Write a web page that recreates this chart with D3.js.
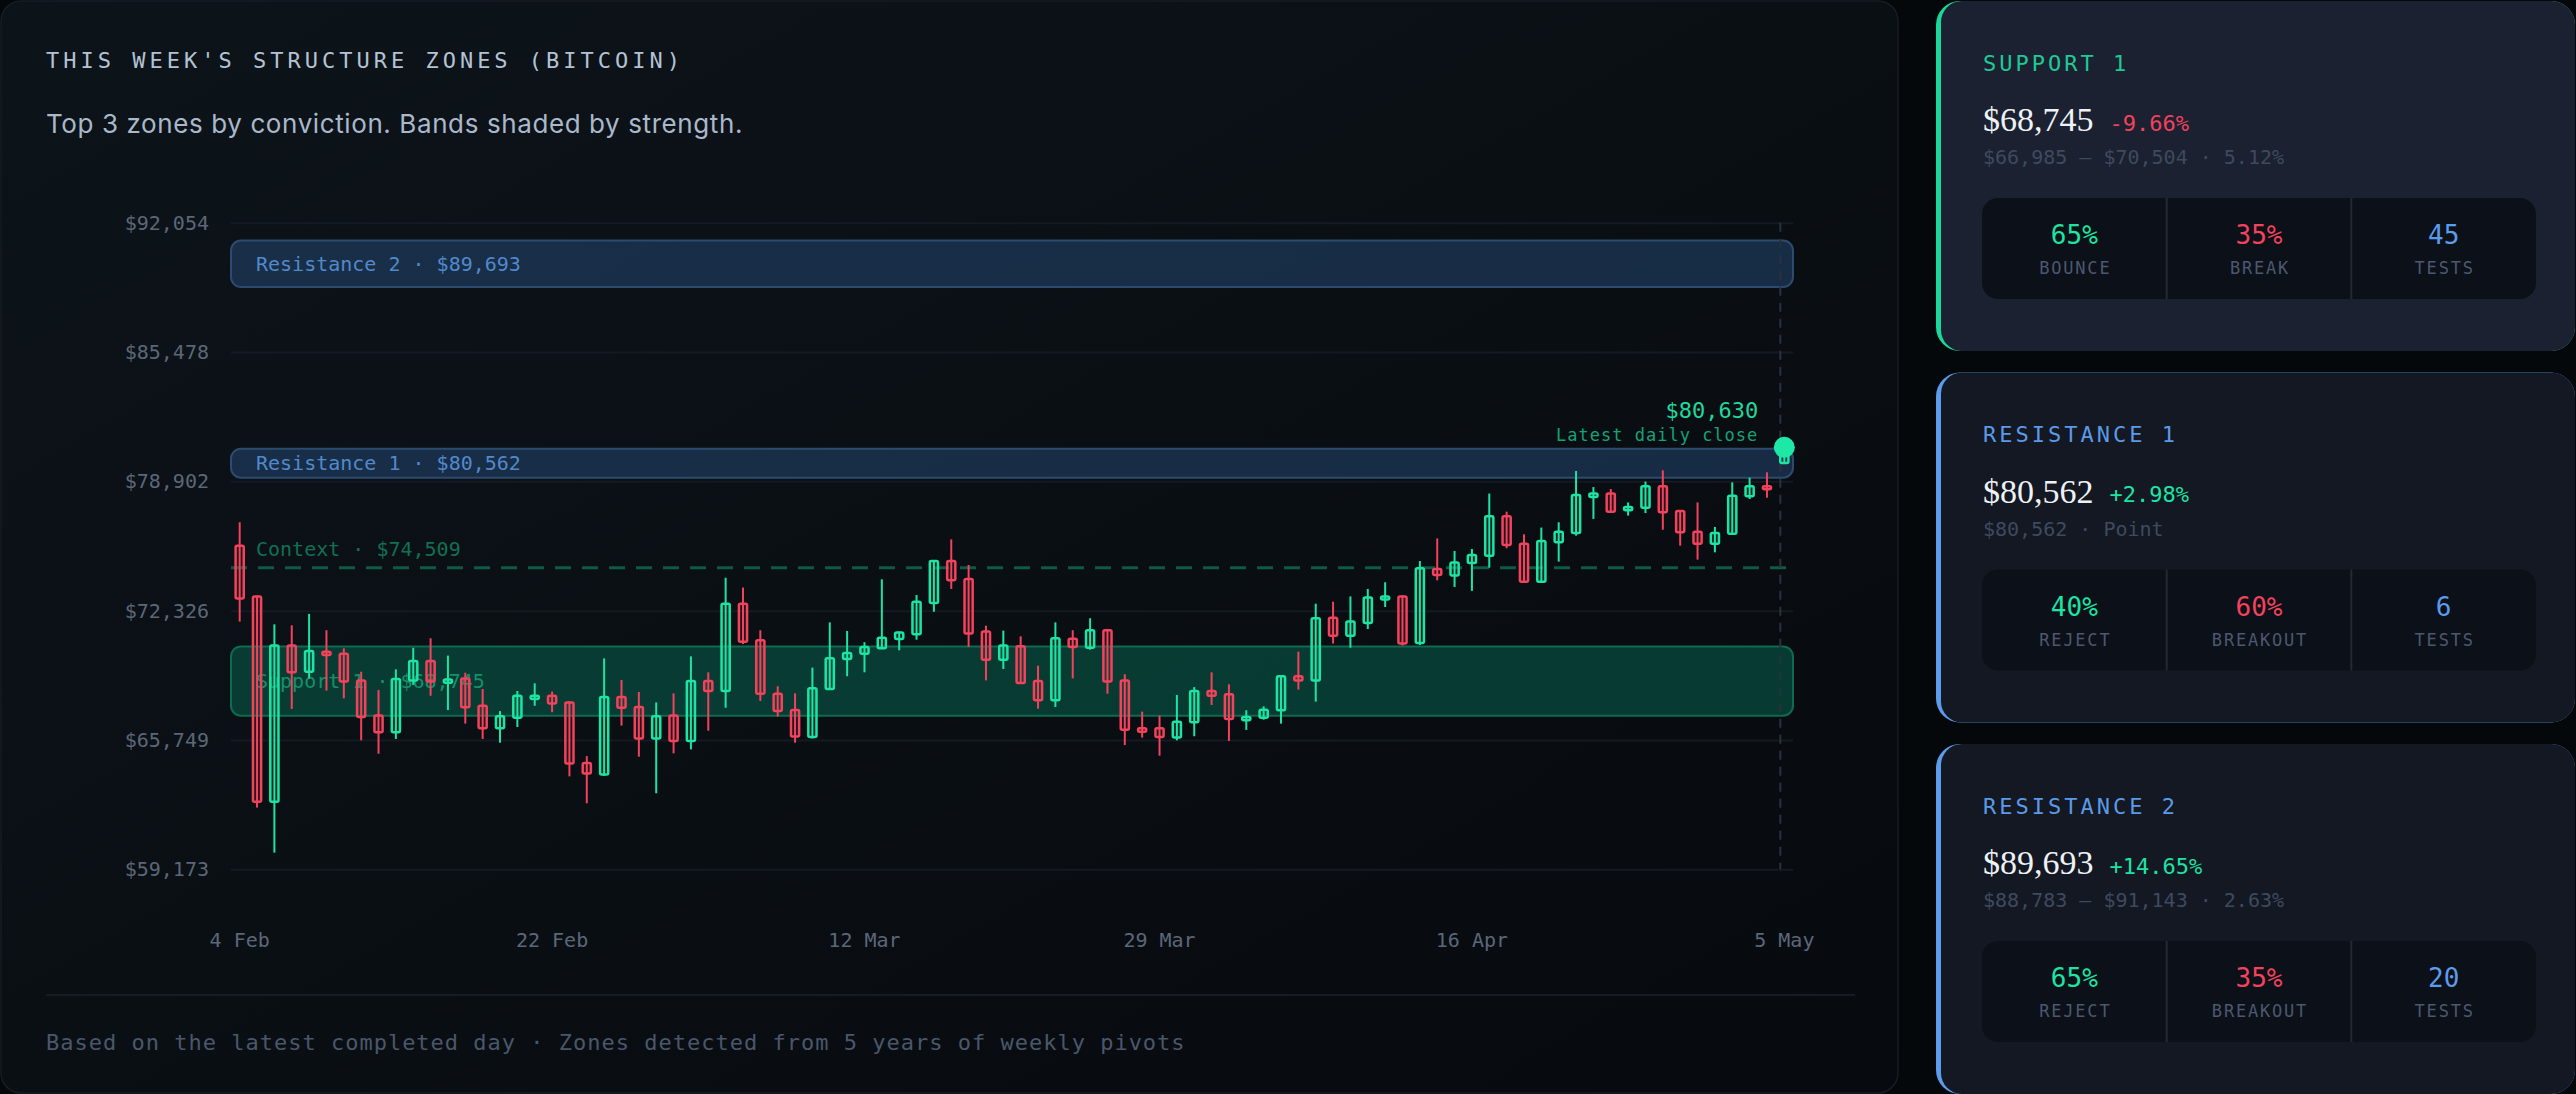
<!DOCTYPE html>
<html>
<head>
<meta charset="utf-8">
<script src="https://cdn.jsdelivr.net/npm/d3@7"></script>
<style>
html, body { margin: 0; padding: 0; background: #05080b; overflow: hidden; }
svg { display: block; }
</style>
</head>
<body>
<div id="main"></div>
<script>
const ctx = {
    w: 2576,
    h: 1094,
    left: 231, right: 1793, top: 222.7, bottom: 869.3,
    mono: "'DejaVu Sans Mono', monospace",
    green: "#1de4a2",
    red: "#f2425c",
    blue: "#5b9cec",
};

// daily candles, index 0 = 4 Feb
const opens = [75630, 73040, 62610, 70550, 69220, 70240, 70140, 68780, 66990, 66140,
    68780, 69770, 68660, 68880, 67490, 66340, 66880, 67830, 68000, 67660,
    64580, 64000, 67940, 67430, 65830, 66990, 65700, 68750, 68240, 72680,
    70820, 68100, 67270, 65900, 68340, 69870, 70140, 70410, 70880, 71120,
    72720, 74850, 73940, 71260, 69830, 70510, 68750, 67770, 70900, 70440,
    71330, 68780, 66340, 66340, 65870, 66650, 68240, 68070, 66750, 66880,
    67260, 68990, 68780, 71970, 71050, 71700, 72890, 73050, 70680, 74440,
    74110, 74750, 75120, 77120, 75730, 73800, 75800, 76280, 78110, 78280,
    77430, 77560, 78650, 77390, 76340, 75730, 76240, 78140, 78650, 79830];
const highs = [76820, 73090, 71630, 71580, 72160, 71330, 70410, 69220, 68290, 69340,
    70440, 70920, 70040, 69170, 68340, 67220, 68240, 68630, 68210, 67730,
    64930, 69900, 68800, 68190, 67660, 68120, 70000, 69190, 74000, 73500,
    71330, 68480, 68120, 69430, 71730, 71290, 70720, 73920, 71260, 73120,
    74900, 75950, 74650, 71560, 71310, 71020, 69530, 71730, 71330, 71940,
    71400, 69090, 67190, 66990, 68040, 68440, 69190, 68580, 67260, 67460,
    69020, 70240, 72680, 72780, 73050, 73430, 73770, 73120, 74850, 76000,
    75360, 75460, 78280, 77360, 76210, 76550, 76820, 79430, 78610, 78510,
    77830, 78890, 79460, 77430, 77830, 76580, 78850, 79090, 79360, 80700];
const lows = [71770, 62310, 60020, 67330, 68880, 68260, 67870, 65730, 65050, 65800,
    68550, 68000, 67270, 66580, 65800, 65610, 66410, 67490, 67160, 63900,
    62530, 63920, 66480, 64900, 63040, 65070, 65270, 66220, 67390, 70630,
    67730, 66940, 65610, 65830, 68310, 68990, 69190, 70380, 70310, 70850,
    72270, 73430, 70480, 68780, 69360, 68610, 67340, 67430, 68880, 70340,
    68100, 65490, 65870, 64950, 65730, 65940, 67530, 65700, 66260, 66780,
    66580, 68310, 67700, 70650, 70440, 71390, 72510, 70550, 70580, 73870,
    73530, 73330, 74510, 75500, 73770, 73770, 74820, 76140, 76990, 77290,
    77160, 77290, 76440, 75630, 74920, 75290, 76210, 78000, 78070, 79780];
const closes = [72950, 62610, 70550, 69190, 70270, 70070, 68720, 66920, 66140, 68850,
    69770, 68720, 68830, 67410, 66340, 66950, 68000, 68000, 67600, 64550,
    64040, 67940, 67390, 65830, 66950, 65700, 68750, 68240, 72680, 70750,
    68100, 67220, 65920, 68380, 69900, 70170, 70480, 70950, 71220, 72780,
    74850, 73870, 71160, 69830, 70550, 68650, 67770, 70920, 70480, 71330,
    68720, 66270, 66170, 65900, 66680, 68240, 68000, 66820, 66920, 67290,
    68990, 68780, 71940, 71050, 71770, 72990, 73050, 70650, 74480, 74140,
    74780, 75160, 77120, 75660, 73800, 75870, 76340, 78210, 78280, 77360,
    77600, 78650, 77330, 76310, 75730, 76280, 78170, 78650, 78510, 80630];

// axes
const yTicks = [59173, 65749, 72326, 78902, 85478, 92054];
const xTickIdx = [0, 18, 36, 53, 71, 89];
const xTickLabels = ["4 Feb", "22 Feb", "12 Mar", "29 Mar", "16 Apr", "5 May"];

// zone bands on the chart
const bandNames = ["Resistance 2", "Resistance 1", "Support 1"];
const bandLevels = [89693, 80562, 68745];
const bandLo = [88783, 79090, 66985];
const bandHi = [91143, 80562, 70504];
const bandKinds = ["res", "res", "sup"];
const contextLevel = 74509;

// side cards
const cardTitles = ["SUPPORT 1", "RESISTANCE 1", "RESISTANCE 2"];
const cardKinds = ["sup", "res", "res"];
const cardPrices = [68745, 80562, 89693];
const cardChanges = [-9.66, 2.98, 14.65];
const cardRanges = ["$66,985 \u2014 $70,504 \u00b7 5.12%", "$80,562 \u00b7 Point", "$88,783 \u2014 $91,143 \u00b7 2.63%"];
const cardStatValues = [["65%", "35%", "45"], ["40%", "60%", "6"], ["65%", "35%", "20"]];
const cardStatLabels = [["BOUNCE", "BREAK", "TESTS"], ["REJECT", "BREAKOUT", "TESTS"], ["REJECT", "BREAKOUT", "TESTS"]];

const fmt = d => "$" + d3.format(",")(d);

function createViz() {
    const svg = d3.select("#main").append("svg")
        .attr("width", ctx.w).attr("height", ctx.h);
    const defs = svg.append("defs");
    const grad = defs.append("linearGradient").attr("id", "panelGrad")
        .attr("x1", 0).attr("y1", 0).attr("x2", 1).attr("y2", 1);
    grad.append("stop").attr("offset", "0%").attr("stop-color", "#0d1419");
    grad.append("stop").attr("offset", "100%").attr("stop-color", "#070a0f");

    // main panel
    svg.append("rect")
        .attr("x", 1).attr("y", 1).attr("width", 1897).attr("height", 1092)
        .attr("rx", 20)
        .attr("fill", "url(#panelGrad)")
        .attr("stroke", "#171d25").attr("stroke-width", 1.5);

    svg.append("text")
        .attr("x", 46).attr("y", 60).attr("dy", "0.36em")
        .style("font", `22px ${ctx.mono}`)
        .style("letter-spacing", "4px")
        .attr("fill", "#b4c2d5")
        .text("THIS WEEK'S STRUCTURE ZONES (BITCOIN)");

    svg.append("text")
        .attr("x", 46).attr("y", 133)
        .style("font", "26px Inter, 'Noto Sans', sans-serif")
        .style("letter-spacing", "0.6px")
        .attr("fill", "#a9b8cb")
        .text("Top 3 zones by conviction. Bands shaded by strength.");

    drawChart(svg);
    drawCards(svg, defs);

    // footer
    svg.append("line")
        .attr("x1", 46).attr("x2", 1855).attr("y1", 995).attr("y2", 995)
        .attr("stroke", "#161c25").attr("stroke-width", 2);
    svg.append("text")
        .attr("x", 46).attr("y", 1042).attr("dy", "0.36em")
        .style("font", `22px ${ctx.mono}`)
        .style("letter-spacing", "1px")
        .attr("fill", "#4a576b")
        .text("Based on the latest completed day \u00b7 Zones detected from 5 years of weekly pivots");
}

function drawChart(svg) {
    const n = closes.length;
    const x = d3.scaleBand().domain(d3.range(n)).range([ctx.left, ctx.right]);
    const y = d3.scaleLinear().domain([59173, 92054]).range([ctx.bottom, ctx.top]);
    const cx = i => x(i) + x.bandwidth() / 2;

    // y axis + grid
    const gy = svg.append("g")
        .attr("transform", `translate(${ctx.left},0)`)
        .call(d3.axisLeft(y).tickValues(yTicks).tickSize(-(ctx.right - ctx.left))
            .tickPadding(22).tickFormat(fmt));
    gy.select(".domain").remove();
    gy.selectAll("line").attr("stroke", "#141a23").attr("stroke-width", 2);
    gy.selectAll("text")
        .attr("fill", "#5b6779")
        .style("font", `20px ${ctx.mono}`);

    // x axis labels
    const gx = svg.append("g")
        .attr("transform", `translate(0,940)`)
        .call(d3.axisBottom(x).tickValues(xTickIdx).tickSize(0)
            .tickFormat((d, k) => xTickLabels[k]));
    gx.select(".domain").remove();
    gx.selectAll("text")
        .attr("y", 0).attr("dy", "0.36em")
        .attr("fill", "#5b6779")
        .style("font", `20px ${ctx.mono}`);

    // zone bands
    const bandStyle = {
        res: { fill: "rgba(38,74,120,0.5)", stroke: "#2c4b6f", text: "#5189cc" },
        sup: { fill: "rgba(6,104,82,0.5)", stroke: "#0f6a50", text: "#178f6b" },
    };
    const bands = bandNames.map((name, k) => ({
        name, level: bandLevels[k], lo: bandLo[k], hi: bandHi[k], kind: bandKinds[k]
    }));
    svg.append("g").selectAll("rect")
        .data(bands).join("rect")
        .attr("x", ctx.left).attr("width", ctx.right - ctx.left)
        .attr("y", d => y(d.hi))
        .attr("height", d => y(d.lo) - y(d.hi))
        .attr("rx", 10)
        .attr("fill", d => bandStyle[d.kind].fill)
        .attr("stroke", d => bandStyle[d.kind].stroke)
        .attr("stroke-width", 2);

    svg.append("g").selectAll("text")
        .data(bands).join("text")
        .attr("x", ctx.left + 25)
        .attr("y", d => (y(d.lo) + y(d.hi)) / 2)
        .attr("dy", "0.36em")
        .style("font", `20px ${ctx.mono}`)
        .attr("fill", d => bandStyle[d.kind].text)
        .text(d => `${d.name} \u00b7 ${fmt(d.level)}`);

    // context level
    svg.append("line")
        .attr("x1", ctx.left).attr("x2", ctx.right)
        .attr("y1", y(contextLevel)).attr("y2", y(contextLevel))
        .attr("stroke", "#0e5a45").attr("stroke-width", 3)
        .attr("stroke-dasharray", "16 11");
    svg.append("text")
        .attr("x", ctx.left + 25).attr("y", y(contextLevel) - 19).attr("dy", "0.36em")
        .style("font", `20px ${ctx.mono}`)
        .attr("fill", "#107054")
        .text(`Context \u00b7 ${fmt(contextLevel)}`);

    // latest day marker line
    const last = n - 1;
    svg.append("line")
        .attr("x1", cx(last) - 4).attr("x2", cx(last) - 4)
        .attr("y1", ctx.top).attr("y2", ctx.bottom)
        .attr("stroke", "#2a313b").attr("stroke-width", 2)
        .attr("stroke-dasharray", "9 7");

    // candles
    const candles = d3.range(n).map(i => ({
        i, o: opens[i], h: highs[i], l: lows[i], c: closes[i]
    }));
    const bodyW = x.bandwidth() * 0.47;
    const g = svg.append("g").selectAll("g")
        .data(candles).join("g")
        .attr("stroke", d => d.c >= d.o ? ctx.green : ctx.red);
    g.append("rect")
        .attr("x", d => cx(d.i) - bodyW / 2)
        .attr("width", bodyW)
        .attr("y", d => y(Math.max(d.o, d.c)))
        .attr("height", d => Math.max(3, Math.abs(y(d.o) - y(d.c))))
        .attr("rx", 1.5)
        .attr("fill", d => d.c >= d.o ? ctx.green : ctx.red)
        .attr("fill-opacity", 0.1)
        .attr("stroke-width", 2.5);
    g.append("line")
        .attr("x1", d => cx(d.i)).attr("x2", d => cx(d.i))
        .attr("y1", d => y(d.h)).attr("y2", d => y(d.l))
        .attr("stroke-width", 2);

    // latest close
    const lastClose = closes[last];
    svg.append("circle")
        .attr("cx", cx(last)).attr("cy", y(lastClose)).attr("r", 10.5)
        .attr("fill", "#1ee8a6");
    svg.append("text")
        .attr("x", cx(last) - 26).attr("y", y(lastClose) - 37).attr("dy", "0.36em")
        .attr("text-anchor", "end")
        .style("font", `22px ${ctx.mono}`)
        .attr("fill", "#20d89b")
        .text(fmt(lastClose));
    svg.append("text")
        .attr("x", cx(last) - 26).attr("y", y(lastClose) - 12).attr("dy", "0.36em")
        .attr("text-anchor", "end")
        .style("font", `17px ${ctx.mono}`)
        .style("letter-spacing", "1px")
        .attr("fill", "#15a276")
        .text("Latest daily close");
}

function drawCards(svg, defs) {
    const cardX = 1936, cardW = 639, cardH = 350, gap = 21.5;
    const accent = { sup: "#1ad89b", res: "#5b9cec" };
    const cardBg = ["#1b2130", "#131823", "#131823"];

    cardTitles.forEach((title, k) => {
        const top = 1 + k * (cardH + gap);
        const kind = cardKinds[k];
        const clipId = "cardClip" + k;
        defs.append("clipPath").attr("id", clipId)
            .append("rect")
            .attr("x", cardX).attr("y", top).attr("width", cardW).attr("height", cardH).attr("rx", 24);
        const g = svg.append("g");
        g.append("rect")
            .attr("x", cardX).attr("y", top).attr("width", cardW).attr("height", cardH).attr("rx", 24)
            .attr("fill", accent[kind]);
        g.append("rect")
            .attr("clip-path", `url(#${clipId})`)
            .attr("x", cardX + 5).attr("y", top).attr("width", cardW + 30).attr("height", cardH)
            .attr("rx", 21)
            .attr("fill", cardBg[k]);

        const tx = cardX + 47;
        g.append("text")
            .attr("x", tx).attr("y", top + 62).attr("dy", "0.36em")
            .style("font", `22px ${ctx.mono}`)
            .style("letter-spacing", "3px")
            .attr("fill", kind === "sup" ? "#1ec995" : "#5b9ae6")
            .text(title);

        const price = g.append("text")
            .attr("x", tx).attr("y", top + 130)
            .style("font", "34px 'Liberation Serif', 'DejaVu Serif', serif")
            .attr("fill", "#eef1f5")
            .text(fmt(cardPrices[k]));
        const pw = price.node().getComputedTextLength();
        const ch = cardChanges[k];
        g.append("text")
            .attr("x", tx + pw + 16).attr("y", top + 122).attr("dy", "0.36em")
            .style("font", `22px ${ctx.mono}`)
            .attr("fill", ch < 0 ? ctx.red : ctx.green)
            .text((ch > 0 ? "+" : "") + ch.toFixed(2) + "%");

        g.append("text")
            .attr("x", tx).attr("y", top + 156).attr("dy", "0.36em")
            .style("font", `20px ${ctx.mono}`)
            .attr("fill", "#3e4a5e")
            .text(cardRanges[k]);

        // stats box
        const bx = tx - 1, bw = 554, by = top + 197, bh = 101;
        g.append("rect")
            .attr("x", bx).attr("y", by).attr("width", bw).attr("height", bh).attr("rx", 16)
            .attr("fill", "#0c1018");
        const cellW = bw / 3;
        [1, 2].forEach(j => {
            g.append("line")
                .attr("x1", bx + j * cellW).attr("x2", bx + j * cellW)
                .attr("y1", by).attr("y2", by + bh)
                .attr("stroke", "#232a36").attr("stroke-width", 2);
        });
        const valColors = [ctx.green, ctx.red, ctx.blue];
        cardStatValues[k].forEach((v, j) => {
            g.append("text")
                .attr("x", bx + cellW * (j + 0.5)).attr("y", top + 234).attr("dy", "0.36em")
                .attr("text-anchor", "middle")
                .style("font", `26px ${ctx.mono}`)
                .attr("fill", valColors[j])
                .text(v);
            g.append("text")
                .attr("x", bx + cellW * (j + 0.5) + 1).attr("y", top + 267).attr("dy", "0.36em")
                .attr("text-anchor", "middle")
                .style("font", `17px ${ctx.mono}`)
                .style("letter-spacing", "1.8px")
                .attr("fill", "#4b5870")
                .text(cardStatLabels[k][j]);
        });
    });
}

createViz();
</script>
</body>
</html>
